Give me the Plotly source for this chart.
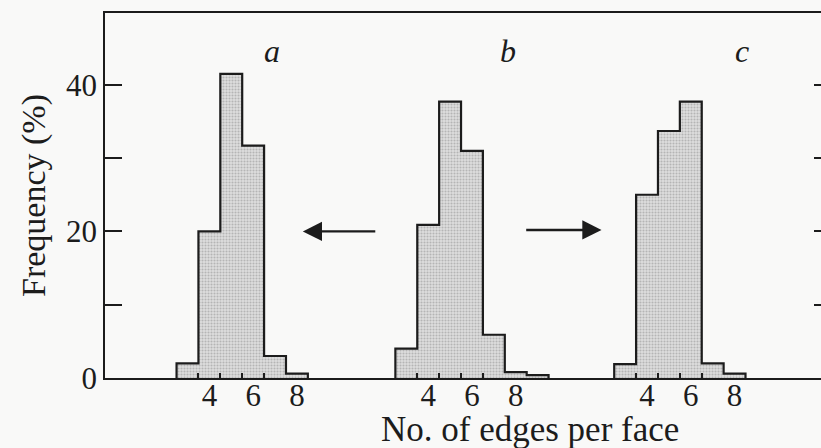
import plotly.graph_objects as go

# ---- data ----
edges_a = [3, 4, 5, 6, 7, 8]
freq_a = [2.0, 20.0, 41.5, 31.7, 3.0, 0.6]

edges_b = [3, 4, 5, 6, 7, 8, 9]
freq_b = [4.0, 20.9, 37.7, 31.0, 5.9, 0.8, 0.4]

edges_c = [3, 4, 5, 6, 7, 8]
freq_c = [1.9, 25.0, 33.7, 37.7, 2.0, 0.6]

panel_labels = ["a", "b", "c"]
x_ticklabels = ["4", "6", "8"]
x_label_values = [4, 6, 8]
y_tickvals = [0, 10, 20, 30, 40]
y_ticktext = ["0", "", "20", "", "40"]

# ---- layout parameters ----
panel_offsets = [0, 10, 20]          # horizontal shift of each panel on the shared axis
FONT = "Liberation Serif, Times New Roman, serif"
INK = "#1c1c1c"
BG = "#f9f9f8"


def step_outline(edges, freqs, off):
    lefts = [e - 0.5 + off for e in edges]
    right = edges[-1] + 0.5 + off
    xs = [lefts[0]] + lefts + [right]
    ys = [0] + list(freqs) + [0]
    return xs, ys


fig = go.Figure()
for edges, freqs, off in zip([edges_a, edges_b, edges_c], [freq_a, freq_b, freq_c], panel_offsets):
    xs, ys = step_outline(edges, freqs, off)
    fig.add_trace(go.Scatter(
        x=xs, y=ys, mode="lines", line=dict(shape="hv", color=INK, width=2.2),
        fill="tozeroy", fillcolor="#d6d6d6",
        fillpattern=dict(shape=".", bgcolor="#dedede", fgcolor="#8c8c8c", size=3, solidity=0.4),
        showlegend=False, hoverinfo="skip",
    ))

# invisible trace to carry the mirrored right-hand y ticks
fig.add_trace(go.Scatter(x=[None], y=[None], yaxis="y2", showlegend=False))

tickvals = [v + off for off in panel_offsets for v in x_label_values]
ticktext = [t for off in panel_offsets for t in x_ticklabels]
minor_vals = [v + off for off in panel_offsets for v in [3.5, 4.5, 5.5, 6.5]]

fig.update_layout(
    width=821, height=448,
    margin=dict(l=105, r=0, t=13, b=70, autoexpand=False),
    paper_bgcolor=BG, plot_bgcolor=BG,
    font=dict(family=FONT, color=INK, size=31),
    xaxis=dict(
        range=[-0.77, 31.95], showgrid=False, zeroline=False, automargin=False,
        showline=True, linecolor=INK, linewidth=1.8, mirror=True,
        tickvals=tickvals, ticktext=ticktext, ticks="", ticklabelstandoff=-11,
        tickfont=dict(size=31, family=FONT, color=INK),
        minor=dict(tickvals=minor_vals, ticks="inside", ticklen=5, tickwidth=1.5, tickcolor=INK),
    ),
    yaxis=dict(
        range=[0, 49.8], showgrid=False, zeroline=False, automargin=False,
        showline=True, linecolor=INK, linewidth=1.8,
        tickvals=y_tickvals, ticktext=y_ticktext,
        ticks="inside", ticklen=17, tickwidth=1.5, tickcolor=INK,
        tickfont=dict(size=31, family=FONT, color=INK),
    ),
    yaxis2=dict(
        range=[0, 49.8], overlaying="y", side="right", showgrid=False, zeroline=False,
        automargin=False,
        showline=False, tickvals=y_tickvals[1:], ticks="inside", ticklen=7, tickwidth=1.5,
        tickcolor=INK, showticklabels=False,
    ),
)

# axis titles as annotations
fig.add_annotation(text="No. of edges per face", xref="paper", yref="paper",
                   x=0.594, y=-0.14, showarrow=False, xanchor="center", yanchor="middle",
                   font=dict(size=35, family=FONT, color=INK))
fig.add_annotation(text="Frequency (%)", xref="paper", yref="paper", textangle=-90,
                   x=-0.099, y=0.499, showarrow=False, xanchor="center", yanchor="middle",
                   font=dict(size=34, family=FONT, color=INK))

# panel letters
for lab, xpos in zip(panel_labels, [6.85, 17.63, 28.36]):
    fig.add_annotation(text=f"<i>{lab}</i>", x=xpos, y=44.6, xref="x", yref="y",
                       showarrow=False, font=dict(size=32, family=FONT, color=INK))

# arrows
fig.add_annotation(x=8.27, y=20, ax=11.65, ay=20, xref="x", yref="y", axref="x", ayref="y",
                   showarrow=True, arrowhead=2, arrowsize=1.6, arrowwidth=2.4, arrowcolor=INK, text="")
fig.add_annotation(x=21.92, y=20.2, ax=18.41, ay=20.2, xref="x", yref="y", axref="x", ayref="y",
                   showarrow=True, arrowhead=2, arrowsize=1.6, arrowwidth=2.4, arrowcolor=INK, text="")

fig.write_html("out.html", config={"displayModeBar": False},
               post_script="document.body.style.margin='0';document.body.style.overflow='hidden';")
